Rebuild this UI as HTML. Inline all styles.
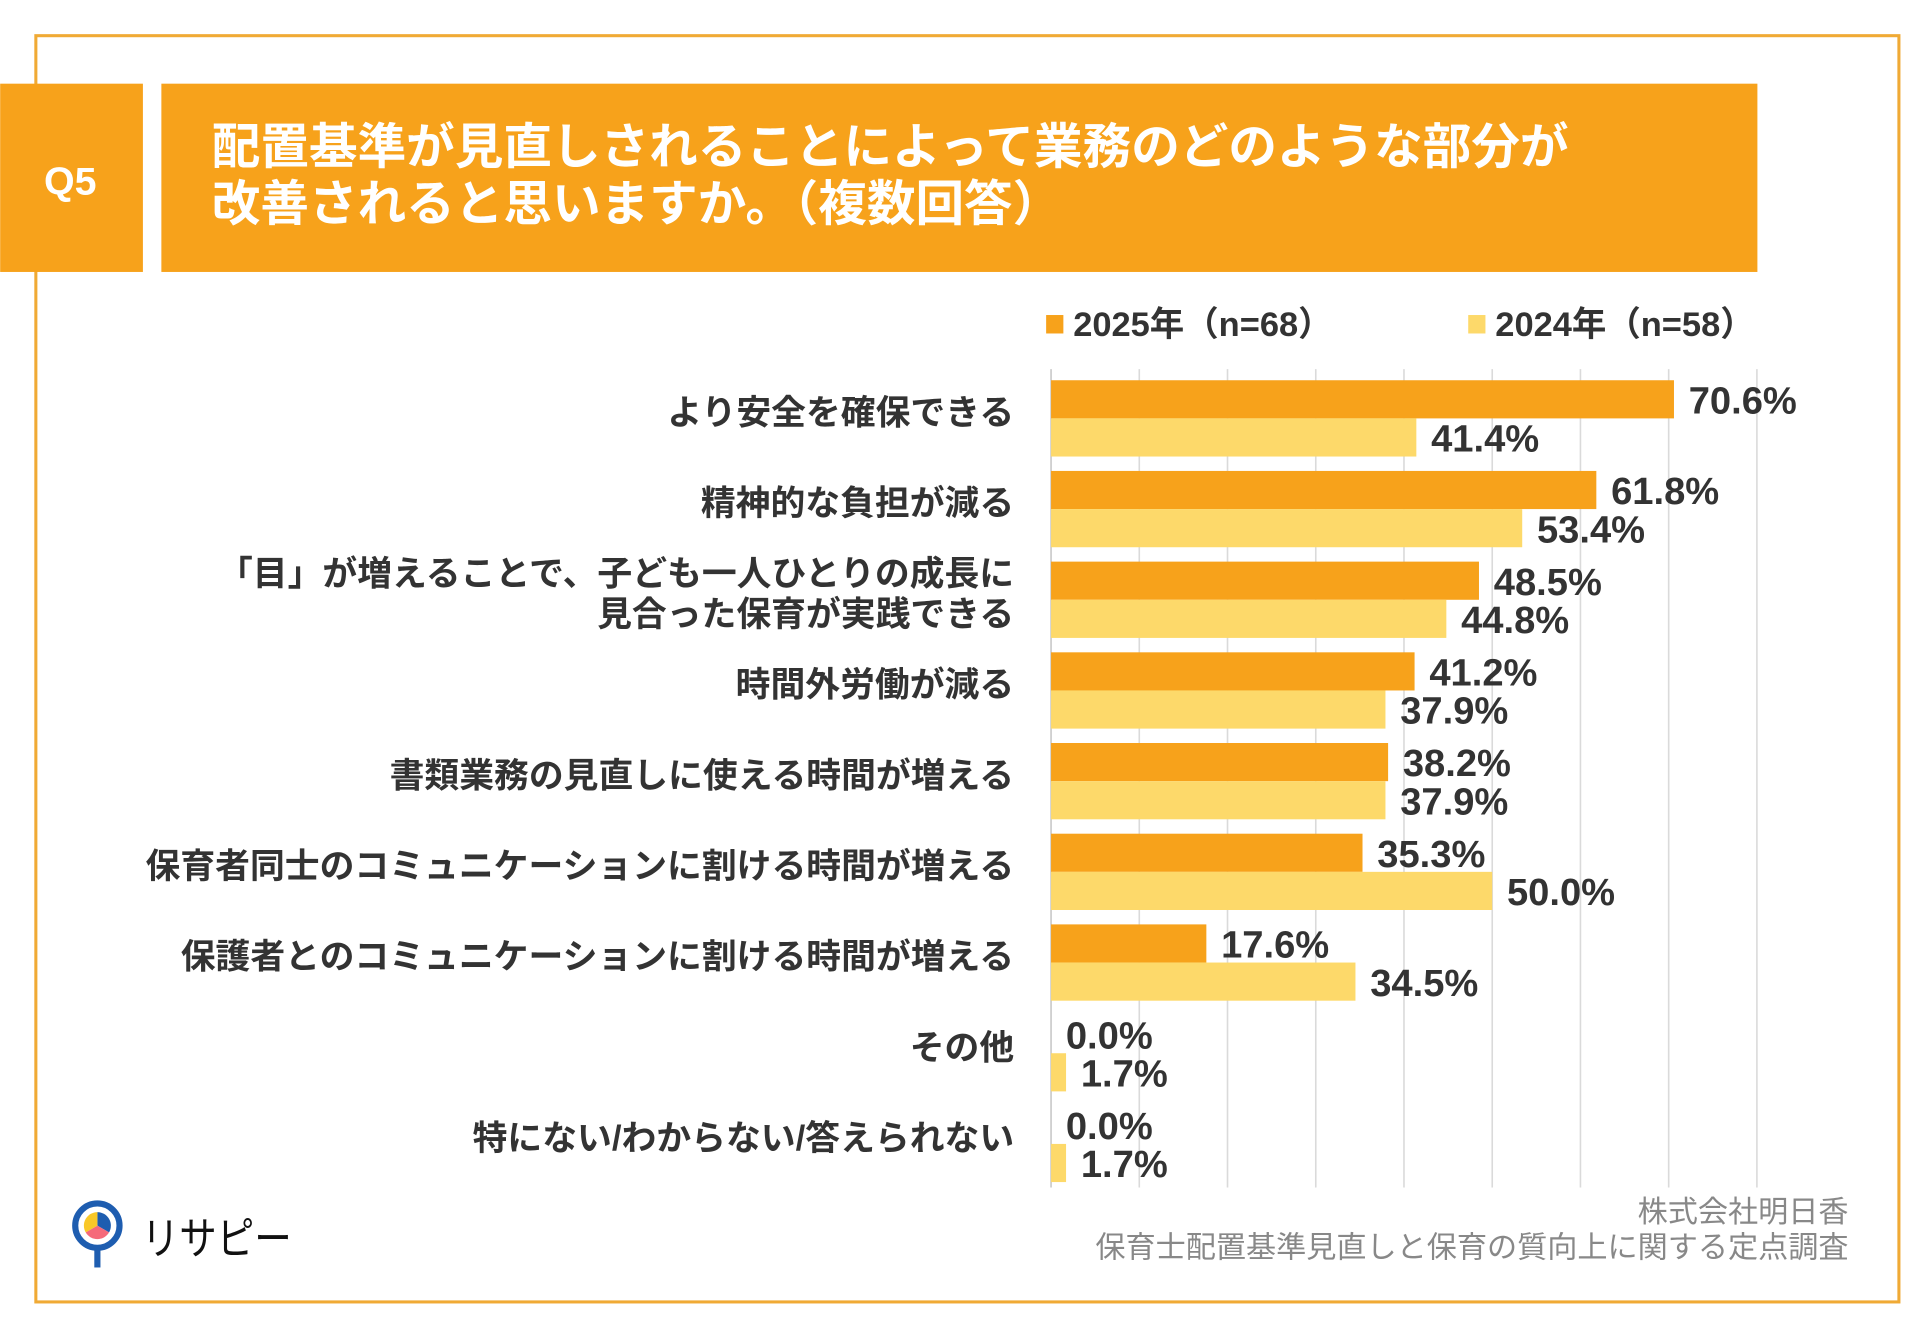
<!DOCTYPE html>
<html><head><meta charset="utf-8"><style>
html,body{margin:0;padding:0;background:#fff;}
svg{display:block;}
text{font-family:"Liberation Sans","Noto Sans CJK JP",sans-serif;}
</style></head><body>
<svg id="chart" width="1920" height="1329" viewBox="0 0 1560 1080" xmlns="http://www.w3.org/2000/svg">
<rect x="29" y="29" width="1514" height="1029" fill="none" stroke="#f0aa35" stroke-width="2.5"/>
<rect x="0" y="68" width="116" height="153" fill="#f7a21b"/>
<text x="57" y="158" fill="#fff" font-size="32" font-weight="bold" text-anchor="middle">Q5</text>
<rect x="131" y="68" width="1297" height="153" fill="#f7a21b"/>
<text x="172" y="133" fill="#fff" font-size="39.5" font-weight="bold">配置基準が見直しされることによって業務のどのような部分が</text>
<text x="172" y="179" fill="#fff" font-size="39.5" font-weight="bold">改善されると思いますか。（複数回答）</text>
<rect x="850" y="256" width="14" height="15" fill="#f7a21b"/>
<text x="872" y="273" fill="#333" font-size="28" font-weight="bold">2025年（n=68）</text>
<rect x="1193" y="256" width="14" height="15" fill="#fdd96a"/>
<text x="1215" y="273" fill="#333" font-size="28" font-weight="bold">2024年（n=58）</text>
<g id="grid"></g><g id="bars"></g><g id="labels"></g>
<text x="1502" y="993" fill="#888" font-size="24.5" text-anchor="end">株式会社明日香</text>
<text x="1502" y="1022" fill="#888" font-size="24.5" text-anchor="end">保育士配置基準見直しと保育の質向上に関する定点調査</text>
<g>
<line x1="79" y1="1010" x2="79" y2="1030" stroke="#1e5db0" stroke-width="5"/>
<circle cx="79" cy="996" r="18" fill="#fff" stroke="#1e5db0" stroke-width="5"/>
<path d="M79 996 L79 985 A11 11 0 0 1 88.5 1001.5 Z" fill="#1e5db0"/>
<path d="M79 996 L88.5 1001.5 A11 11 0 0 1 69.5 1001.5 Z" fill="#f56a7a"/>
<path d="M79 996 L69.5 1001.5 A11 11 0 0 1 79 985 Z" fill="#f9c828"/>
<text x="115" y="1019" fill="#111" font-size="36" textLength="122" lengthAdjust="spacingAndGlyphs">リサピー</text>
</g>
</svg>
<script>
const categories=["より安全を確保できる","精神的な負担が減る","「目」が増えることで、子ども一人ひとりの成長に|見合った保育が実践できる","時間外労働が減る","書類業務の見直しに使える時間が増える","保育者同士のコミュニケーションに割ける時間が増える","保護者とのコミュニケーションに割ける時間が増える","その他","特にない/わからない/答えられない"];
const values2025=[70.6,61.8,48.5,41.2,38.2,35.3,17.6,0.0,0.0];
const values2024=[41.4,53.4,44.8,37.9,37.9,50.0,34.5,1.7,1.7];
const gridTicks=[0,10,20,30,40,50,60,70,80];
const NS="http://www.w3.org/2000/svg";
const X0=854, PX=7.17, TOP=309, PITCH=73.7, BH=31;
const xs=v=>X0+v*PX, ys=i=>TOP+i*PITCH;
function mk(tag,attrs,parent){const e=document.createElementNS(NS,tag);for(const k in attrs)e.setAttribute(k,attrs[k]);parent.appendChild(e);return e;}
const grid=document.getElementById('grid'),bars=document.getElementById('bars'),labels=document.getElementById('labels');
gridTicks.forEach(t=>{const l=mk('line',{x1:xs(t),x2:xs(t),y1:300,y2:965,stroke:t===0?'#c8c8c8':'#dadada','stroke-width':1.3},grid);

});
categories.forEach((c,i)=>{
 const y=ys(i);
 const b1=mk('rect',{x:X0,y:y,width:values2025[i]*PX,height:BH,fill:'#f7a21b'},bars);
 
 
 const b2=mk('rect',{x:X0,y:y+BH,width:values2024[i]*PX,height:BH,fill:'#fdd96a'},bars);
 
 
 const t1=mk('text',{x:xs(values2025[i])+12,y:y+27,fill:'#333','font-size':31,'font-weight':'bold'},labels);
 t1.textContent=values2025[i].toFixed(1)+'%';
 
 
 const t2=mk('text',{x:xs(values2024[i])+12,y:y+BH+27,fill:'#333','font-size':31,'font-weight':'bold'},labels);
 t2.textContent=values2024[i].toFixed(1)+'%';
 
 
 const lines=c.split('|');
 lines.forEach((ln,j)=>{
  const cy=y+BH+5+(j-(lines.length-1)/2)*33;
  const t=mk('text',{x:824,y:cy,fill:'#333','font-size':28.3,'font-weight':'bold','text-anchor':'end'},labels);
  t.textContent=ln;
  
  
 });
});
</script>
</body></html>
